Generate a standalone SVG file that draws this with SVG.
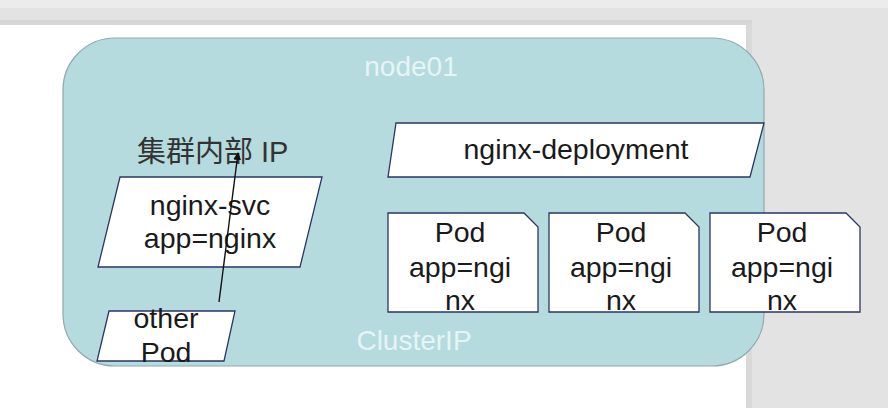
<svg xmlns="http://www.w3.org/2000/svg" width="888" height="408" viewBox="0 0 888 408">
<style>
.shape{fill:#ffffff;stroke:#2b3566;stroke-width:1.3}
.t{font-family:"Liberation Sans",Arial,sans-serif;font-size:28.5px;fill:#1a1a1a;text-anchor:middle}
.w{font-family:"Liberation Sans",Arial,sans-serif;font-size:28px;fill:#e6f4f5;text-anchor:middle}
.cj{font-family:"Liberation Sans","Noto Sans CJK SC",sans-serif;font-size:29px;fill:#333333}
</style>
<defs>
<marker id="ah" markerWidth="8" markerHeight="8" refX="7" refY="4" orient="auto" markerUnits="userSpaceOnUse">
<path d="M0,0 L8,4 L0,8 z" fill="#111"/>
</marker>
</defs>
<rect x="0" y="0" width="888" height="408" fill="#e3e3e3"/>
<rect x="0" y="0" width="888" height="8" fill="#ececec"/>
<rect x="0" y="20" width="752" height="5" fill="#d6d6d6"/>
<rect x="0" y="25" width="746" height="383" fill="#ffffff"/>
<rect x="746" y="25" width="6" height="383" fill="#d9d9d9"/>
<g id="node01">
<rect x="63" y="38" width="701" height="328" rx="52" ry="52" fill="#b5dbdf" stroke="#8fa9ad" stroke-width="1.2"/>
<text class="w" x="411" y="76">node01</text>
<text class="w" x="414" y="350">ClusterIP</text>
</g>
<g id="cluster-ip-label">
<text class="cj" x="137" y="162">集群内部 IP</text>
</g>
<g id="nginx-svc">
<polygon class="shape" points="120,177 322,177 300,267 98,267"/>
<text class="t" x="210" y="215">nginx-svc</text>
<text class="t" x="210" y="248">app=nginx</text>
</g>
<g id="other-pod">
<polygon class="shape" points="109,311 235,311 224,361 97,361"/>
<text class="t" x="166" y="328">other</text>
<text class="t" x="166" y="362">Pod</text>
</g>
<g id="nginx-deployment">
<polygon class="shape" points="396,123 764,123 750,177 388,177"/>
<text class="t" x="576" y="159">nginx-deployment</text>
</g>
<g id="pod1">
<path class="shape" d="M388,213 L524,213 L538,227 L538,312 L388,312 Z"/>
<text class="t" x="460" y="242">Pod</text>
<text class="t" x="460" y="277">app=ngi</text>
<text class="t" x="460" y="310">nx</text>
</g>
<g id="pod2">
<path class="shape" d="M549,213 L685,213 L699,227 L699,312 L549,312 Z"/>
<text class="t" x="621" y="242">Pod</text>
<text class="t" x="621" y="277">app=ngi</text>
<text class="t" x="621" y="310">nx</text>
</g>
<g id="pod3">
<path class="shape" d="M710,213 L846,213 L860,227 L860,312 L710,312 Z"/>
<text class="t" x="782" y="242">Pod</text>
<text class="t" x="782" y="277">app=ngi</text>
<text class="t" x="782" y="310">nx</text>
</g>
<g id="connectors">
<line x1="219" y1="302" x2="238" y2="153" stroke="#111" stroke-width="1.4" marker-end="url(#ah)"/>
</g>
</svg>
